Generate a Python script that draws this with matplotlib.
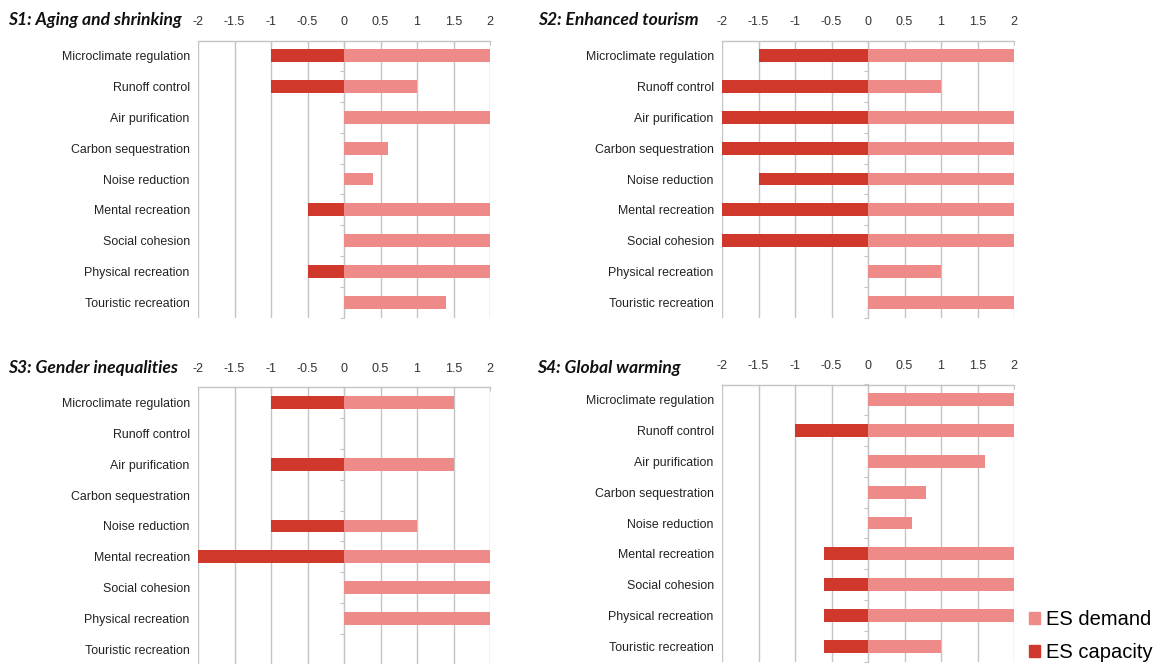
import matplotlib
matplotlib.use("Agg")
import matplotlib.pyplot as plt
from matplotlib.patches import Patch

# Ecosystem services (rows, top to bottom)
services = [
    "Microclimate regulation",
    "Runoff control",
    "Air purification",
    "Carbon sequestration",
    "Noise reduction",
    "Mental recreation",
    "Social cohesion",
    "Physical recreation",
    "Touristic recreation",
]

# Scenario titles: (prefix, rest)
titles = [
    ("S1", ": Aging and shrinking"),
    ("S2", ": Enhanced tourism"),
    ("S3", ": Gender inequalities"),
    ("S4", ": Global warming"),
]

# ES demand (positive) per scenario
demand_s1 = [2, 1, 2, 0.6, 0.4, 2, 2, 2, 1.4]
demand_s2 = [2, 1, 2, 2, 2, 2, 2, 1, 2]
demand_s3 = [1.5, 0, 1.5, 0, 1, 2, 2, 2, 0]
demand_s4 = [2, 2, 1.6, 0.8, 0.6, 2, 2, 2, 1]

# ES capacity change (negative) per scenario
capacity_s1 = [-1, -1, 0, 0, 0, -0.5, 0, -0.5, 0]
capacity_s2 = [-1.5, -2, -2, -2, -1.5, -2, -2, 0, 0]
capacity_s3 = [-1, 0, -1, 0, -1, -2, 0, 0, 0]
capacity_s4 = [0, -1, 0, 0, 0, -0.6, -0.6, -0.6, -0.6]

x_ticks = [-2, -1.5, -1, -0.5, 0, 0.5, 1, 1.5, 2]
x_tick_labels = ["-2", "-1.5", "-1", "-0.5", "0", "0.5", "1", "1.5", "2"]

legend_labels = ["ES demand", "ES capacity"]

DEMAND_COLOR = "#ee8a87"
CAPACITY_COLOR = "#d0382c"
GRID_COLOR = "#c4c4c4"

W, H = 1163, 664
fig = plt.figure(figsize=(W / 100, H / 100), dpi=100)

# axes boxes in pixels: left, top, right, bottom
boxes = [
    (198, 40.5, 490, 317.5),
    (722, 40.5, 1014, 317.5),
    (198, 387.5, 490, 664.5),
    (722, 384.5, 1014, 661.5),
]
title_pos = [(8, 20), (538, 20), (8, 368), (537, 368)]

demands = [demand_s1, demand_s2, demand_s3, demand_s4]
capacities = [capacity_s1, capacity_s2, capacity_s3, capacity_s4]

label_font = "Liberation Sans"

for i in range(4):
    l, t, r, b = boxes[i]
    ax = fig.add_axes([l / W, 1 - b / H, (r - l) / W, (b - t) / H])
    y = list(range(len(services)))
    ax.barh(y, demands[i], height=0.42, color=DEMAND_COLOR, zorder=3)
    ax.barh(y, capacities[i], height=0.42, color=CAPACITY_COLOR, zorder=3)

    ax.set_xlim(-2, 2)
    ax.set_ylim(len(services) - 0.5, -0.5)

    ax.xaxis.tick_top()
    ax.set_xticks(x_ticks)
    ax.set_xticklabels(x_tick_labels, fontsize=9, color="#333333",
                       family=label_font)
    ax.tick_params(axis="x", which="both", direction="in", length=3,
                   color=GRID_COLOR, pad=9, bottom=False)
    ax.grid(axis="x", color=GRID_COLOR, linewidth=1, zorder=0)

    ax.set_yticks(y)
    ax.set_yticklabels(services, fontsize=8.9, color="#222222",
                       family=label_font)
    ax.tick_params(axis="y", length=0, pad=6)

    for side in ("left", "right", "bottom"):
        ax.spines[side].set_visible(False)
    ax.spines["top"].set_color(GRID_COLOR)
    ax.spines["top"].set_linewidth(1)

    # vertical value axis crossing at zero, with category divider ticks
    zax = ax.secondary_yaxis(0.5)
    zax.set_yticks([k - 0.5 for k in range(len(services) + 1)])
    zax.set_yticklabels([])
    zax.tick_params(axis="y", which="both", direction="out", length=3,
                    color=GRID_COLOR, left=True, right=False)
    for sp in zax.spines.values():
        sp.set_color(GRID_COLOR)

    tx, ty = title_pos[i]
    prefix, rest = titles[i]
    fig.text(tx / W, 1 - ty / H, prefix + rest, fontsize=12.6,
             fontweight="bold", fontstyle="italic", family="Lato",
             va="center", ha="left", color="#111111")

handles = [Patch(color=DEMAND_COLOR), Patch(color=CAPACITY_COLOR)]
fig.legend(handles, legend_labels, loc="upper left",
           bbox_to_anchor=(1029 / W, 1 - 610 / H), frameon=False,
           handlelength=0.55, handleheight=0.55,
           handletextpad=0.3, labelspacing=0.72, borderaxespad=0,
           borderpad=0, prop={"family": "Liberation Sans", "size": 14.5})

fig.savefig("out.png", dpi=100)
